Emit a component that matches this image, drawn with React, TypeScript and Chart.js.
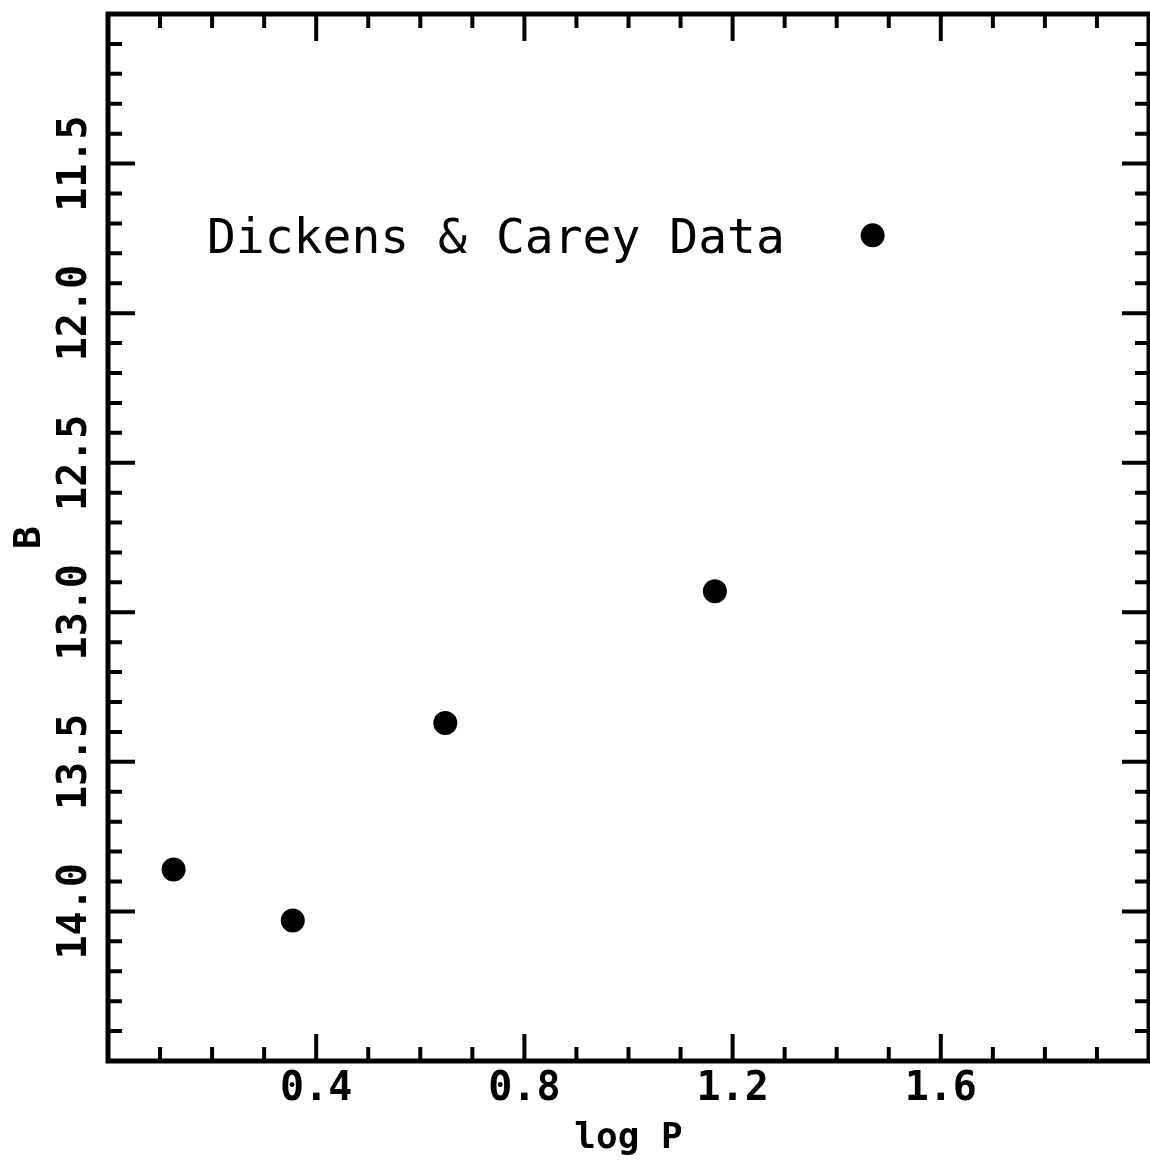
import React, { useEffect, useRef } from "react";
import { Chart, registerables } from "chart.js";
Chart.register(...registerables);

// ---- data ----
const logP = [0.126, 0.355, 0.648, 1.166, 1.469];
const bMag = [13.86, 14.03, 13.37, 12.93, 11.74];
const xTickValues = [0.4, 0.8, 1.2, 1.6];
const yTickValues = [11.5, 12.0, 12.5, 13.0, 13.5, 14.0];
const xRange = [0, 2];
const yRange = [11, 14.5];
const xMinorStep = 0.1;
const xMajorStep = 0.4;
const yMinorStep = 0.1;
const yMajorStep = 0.5;
const xTitle = "log P";
const yTitle = "B";
const annotationText = "Dickens & Carey Data";
const annotationAt = { x: 0.19, y: 11.8 };

const MONO = "'DejaVu Sans Mono', 'Liberation Mono', monospace";

function isMultiple(v: number, step: number) {
  const r = v / step;
  return Math.abs(r - Math.round(r)) < 1e-6;
}

const framePlugin = {
  id: "frameTicks",
  afterDraw(chart: any) {
    const { ctx, chartArea } = chart;
    const xs = chart.scales.x;
    const ys = chart.scales.y;
    const { left, right, top, bottom } = chartArea;
    ctx.save();
    ctx.strokeStyle = "#000";
    ctx.lineCap = "butt";

    // ticks
    ctx.lineWidth = 4;
    const majorLen = 27;
    const minorLen = 14;
    const nx = Math.round((xRange[1] - xRange[0]) / xMinorStep);
    for (let i = 1; i < nx; i++) {
      const v = Math.round((xRange[0] + i * xMinorStep) * 1000) / 1000;
      const px = xs.getPixelForValue(v);
      const len = isMultiple(v, xMajorStep) ? majorLen : minorLen;
      ctx.beginPath();
      ctx.moveTo(px, bottom);
      ctx.lineTo(px, bottom - len);
      ctx.moveTo(px, top);
      ctx.lineTo(px, top + len);
      ctx.stroke();
    }
    const ny = Math.round((yRange[1] - yRange[0]) / yMinorStep);
    for (let i = 1; i < ny; i++) {
      const v = Math.round((yRange[0] + i * yMinorStep) * 1000) / 1000;
      const py = ys.getPixelForValue(v);
      const len = isMultiple(v, yMajorStep) ? majorLen : minorLen;
      ctx.beginPath();
      ctx.moveTo(left, py);
      ctx.lineTo(left + len, py);
      ctx.moveTo(right, py);
      ctx.lineTo(right - len, py);
      ctx.stroke();
    }

    // frame
    ctx.lineWidth = 5;
    ctx.strokeRect(left, top, right - left, bottom - top);

    // rotated y tick labels
    ctx.fillStyle = "#000";
    ctx.font = `bold 40px ${MONO}`;
    ctx.textAlign = "center";
    ctx.textBaseline = "middle";
    for (const t of ys.ticks) {
      const py = ys.getPixelForValue(t.value);
      ctx.save();
      ctx.translate(76, py);
      ctx.rotate(-Math.PI / 2);
      ctx.fillText(Number(t.value).toFixed(1), 0, 0);
      ctx.restore();
    }

    // annotation
    ctx.font = `48px ${MONO}`;
    ctx.textAlign = "left";
    ctx.textBaseline = "alphabetic";
    ctx.fillText(
      annotationText,
      xs.getPixelForValue(annotationAt.x),
      ys.getPixelForValue(annotationAt.y)
    );
    ctx.restore();
  },
};

export default function App() {
  const ref = useRef<HTMLCanvasElement | null>(null);
  useEffect(() => {
    if (!ref.current) return;
    const chart = new Chart(ref.current, {
      type: "scatter",
      data: {
        datasets: [
          {
            label: "Dickens & Carey",
            data: logP.map((x, i) => ({ x, y: bMag[i] })),
            backgroundColor: "#000",
            borderColor: "#000",
            borderWidth: 0,
            pointRadius: 12,
            pointHoverRadius: 12,
            pointStyle: "circle",
          },
        ],
      },
      options: {
        responsive: false,
        animation: false,
        events: [],
        layout: { autoPadding: false, padding: { top: 14, right: 1, left: 0, bottom: 0 } },
        plugins: {
          legend: { display: false },
          tooltip: { enabled: false },
          title: { display: false },
        },
        scales: {
          x: {
            type: "linear",
            position: "bottom",
            min: xRange[0],
            max: xRange[1],
            afterBuildTicks: (s: any) => {
              s.ticks = xTickValues.map((v) => ({ value: v }));
            },
            afterFit: (s: any) => {
              s.height = 103;
              s.paddingLeft = 0;
              s.paddingRight = 0;
            },
            grid: { display: false, drawTicks: false },
            border: { display: false },
            ticks: {
              color: "#000",
              padding: 5,
              maxRotation: 0,
              autoSkip: false,
              font: { family: MONO, size: 40, weight: "bold" },
              callback: (v: any) => Number(v).toFixed(1),
            },
            title: {
              display: true,
              text: xTitle,
              color: "#000",
              font: { family: MONO, size: 36, weight: "bold" },
              padding: { top: 0, bottom: 4 },
            },
          },
          y: {
            type: "linear",
            reverse: true,
            min: yRange[0],
            max: yRange[1],
            afterBuildTicks: (s: any) => {
              s.ticks = yTickValues.map((v) => ({ value: v }));
            },
            afterFit: (s: any) => {
              s.width = 108;
              s.paddingTop = 0;
              s.paddingBottom = 0;
            },
            grid: { display: false, drawTicks: false },
            border: { display: false },
            ticks: { display: false },
            title: {
              display: true,
              text: yTitle,
              color: "#000",
              font: { family: MONO, size: 38, weight: "bold" },
              padding: { top: 7, bottom: 0 },
            },
          },
        },
      },
      plugins: [framePlugin],
    });
    return () => chart.destroy();
  }, []);
  return (
    <div style={{ position: "absolute", left: 0, top: 0, width: 1150, height: 1164, background: "#fff" }}>
      <canvas ref={ref} width={1150} height={1164} style={{ display: "block" }} />
    </div>
  );
}
